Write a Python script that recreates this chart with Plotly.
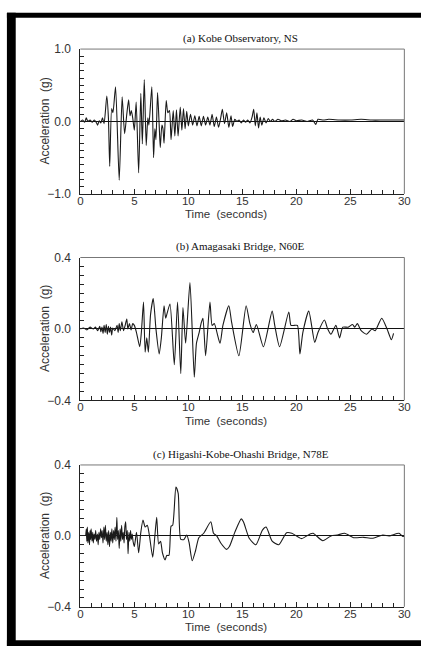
import plotly.graph_objects as go

W, H = 427, 653

# ---------------- data ----------------
kobe_t = [0.0, 0.2, 0.4, 0.55, 0.7, 0.9, 1.1, 1.3, 1.5, 1.6, 1.75, 1.9, 2.05, 2.2,
          2.45, 2.6, 2.72, 2.9, 3.02, 3.26, 3.6, 3.87, 4.1, 4.3, 4.47, 4.6, 4.72, 4.85,
          5.0, 5.17, 5.4, 5.6, 5.74, 5.92, 6.1, 6.25, 6.35, 6.62, 6.78, 6.9, 7.0, 7.15,
          7.3, 7.4, 7.55, 7.65, 7.75, 7.95, 8.1, 8.25, 8.4, 8.6, 8.75, 8.9, 9.05, 9.25,
          9.4, 9.55, 9.7, 9.85, 10.0, 10.2, 10.4, 10.6, 10.8, 11.0, 11.2, 11.4, 11.6,
          11.8, 12.0, 12.2, 12.4, 12.6, 12.8, 13.0, 13.15, 13.35, 13.55, 13.75, 13.95,
          14.1, 14.3, 14.5, 14.7, 14.9, 15.1, 15.3, 15.5, 15.7, 15.9, 16.05, 16.2, 16.35,
          16.5, 16.65, 16.8, 17.0, 17.2, 17.4, 17.6, 17.8, 18.0, 18.3, 18.6, 19.0, 19.4,
          19.7, 20.0, 20.5, 21.0, 21.5, 21.8, 22.0, 22.5, 23.0, 24.0, 25.0, 26.0, 27.0,
          28.0, 29.0, 30.0]
kobe_a = [0.0, 0.02, -0.01, 0.05, 0.0, 0.02, -0.01, 0.02, -0.02, -0.05, 0.01, -0.02, 0.05, -0.03,
          0.35, 0.05, -0.62, 0.18, 0.12, 0.48, -0.81, 0.34, -0.17, 0.10, 0.30, 0.08, 0.15, 0.05,
          -0.12, 0.27, -0.71, 0.39, -0.31, 0.58, -0.33, 0.05, -0.05, 0.48, -0.50, -0.10, -0.25, 0.40,
          -0.05, -0.36, -0.05, -0.10, -0.30, 0.29, 0.12, 0.15, -0.25, 0.15, -0.20, 0.16, -0.20, 0.20,
          -0.12, 0.18, -0.10, 0.14, -0.06, 0.10, -0.05, 0.08, -0.06, 0.07, -0.06, 0.07, -0.05,
          0.06, -0.05, 0.10, -0.07, 0.06, -0.08, 0.05, 0.17, -0.03, 0.12, -0.08, 0.08,
          -0.07, 0.03, 0.0, 0.02, -0.02, 0.02, -0.01, 0.02, -0.02, 0.06, 0.17, -0.06, 0.12,
          -0.09, 0.06, -0.05, 0.05, -0.02, 0.04, 0.0, 0.03, 0.0, 0.03, 0.01, 0.02, 0.0,
          0.03, 0.01, 0.02, 0.0, 0.02, -0.04, 0.03, 0.02, 0.03, 0.02, 0.02, 0.03, 0.02,
          0.02, 0.02, 0.02]

amag_t = [0.0, 0.3, 0.6, 0.9, 1.2, 1.4, 1.6, 1.8, 1.9, 2.0, 2.1, 2.2, 2.3, 2.4, 2.5, 2.6,
          2.7, 2.8, 2.9, 3.0, 3.2, 3.4, 3.5, 3.6, 3.7, 3.85, 4.0, 4.15, 4.3, 4.4, 4.55, 4.7,
          4.85, 5.0, 5.2, 5.5, 5.65, 5.85, 6.0, 6.15, 6.3, 6.5, 6.75, 7.0, 7.3, 7.5, 7.75,
          7.9, 8.0, 8.3, 8.7, 9.0, 9.3, 9.5, 9.75, 10.15, 10.55, 10.75, 11.0, 11.2, 11.35,
          11.6, 12.0, 12.2, 12.4, 12.93, 13.2, 13.75, 14.0, 14.68, 15.35, 15.7, 16.0, 16.3,
          16.95, 17.76, 18.0, 18.45, 19.3, 19.5, 19.8, 20.1, 20.33, 20.6, 21.15, 21.7, 22.0,
          22.6, 22.9, 23.2, 23.66, 24.0, 24.3, 24.8, 25.2, 25.4, 25.65, 26.0, 26.5, 27.0,
          27.3, 27.9, 28.4, 28.8, 29.0]
amag_a = [0.0, 0.005, -0.005, 0.01, 0.0, 0.01, -0.01, 0.015, -0.015, 0.01, -0.025, 0.02, -0.02, 0.025, -0.03, 0.015,
          -0.02, 0.01, -0.035, 0.005, -0.01, 0.02, -0.02, 0.03, -0.01, 0.04, -0.01, 0.02, 0.055, 0.0, 0.03, -0.005,
          0.03, 0.02, -0.02, -0.10, -0.02, 0.15, -0.13, -0.05, -0.13, 0.08, 0.17, 0.0, -0.14, -0.05, 0.13,
          0.06, 0.08, 0.14, -0.20, 0.15, -0.25, 0.12, -0.08, 0.26, -0.27, -0.08, -0.02, 0.035, 0.06,
          -0.15, 0.15, 0.02, 0.03, -0.08, 0.02, 0.13, 0.04, -0.15, 0.13, 0.03, -0.02, 0.025,
          -0.10, 0.10, 0.02, -0.10, 0.095, 0.02, 0.02, 0.02, -0.14, -0.02, 0.10, -0.075, -0.02,
          0.05, 0.0, -0.03, 0.02, -0.05, 0.01, 0.01, 0.025, 0.01, 0.03, -0.01, -0.03, 0.0,
          -0.01, 0.06, 0.0, -0.06, -0.025]

higa_t = [0.5, 0.55, 0.6, 0.65, 0.7, 0.78, 0.85, 0.9, 0.95, 1.0, 1.08, 1.15, 1.2, 1.28, 1.35,
          1.42, 1.5, 1.58, 1.65, 1.72, 1.8, 1.88, 1.95, 2.02, 2.1, 2.18, 2.25, 2.32, 2.4, 2.48,
          2.55, 2.62, 2.7, 2.78, 2.85, 2.92, 3.0, 3.08, 3.15, 3.22, 3.3, 3.38, 3.45, 3.52, 3.6,
          3.68, 3.75, 3.82, 3.9, 3.97, 4.05, 4.12, 4.2, 4.27, 4.35, 4.42, 4.5, 4.58, 4.65, 4.72,
          4.8, 4.88, 5.0, 5.2, 5.4, 5.6, 5.8, 6.0, 6.2, 6.4, 6.7, 6.9, 7.07, 7.25, 7.43, 7.6,
          7.85, 8.0, 8.2, 8.4, 8.55, 8.85, 9.06, 9.3, 9.6, 9.85, 10.06, 10.36, 10.66, 10.97,
          11.42, 12.08, 12.33, 12.63, 13.0, 13.54, 13.8, 14.3, 14.9, 15.1, 15.65, 16.25, 16.86,
          17.2, 17.76, 18.37, 19.1, 19.58, 20.48, 21.24, 21.55, 22.45, 23.2, 23.8, 24.47, 25.3,
          26.2, 27.1, 28.0, 28.6, 29.5, 29.85, 30.0]
higa_a = [0.0, 0.04, -0.03, 0.05, -0.04, 0.02, -0.05, 0.03, -0.02, 0.04, -0.03, 0.02, -0.04, 0.01, -0.02,
          0.03, -0.03, 0.01, -0.05, 0.02, -0.02, 0.04, -0.01, 0.03, -0.04, 0.05, -0.02, 0.06, -0.03, 0.02,
          -0.05, 0.03, -0.06, 0.02, -0.03, 0.04, -0.04, 0.03, -0.02, 0.05, -0.03, 0.105, -0.02, 0.03, -0.07,
          0.04, -0.03, 0.06, -0.02, 0.02, -0.04, 0.05, 0.08, -0.02, 0.03, -0.10, 0.02, -0.03, 0.03, -0.02,
          0.01, -0.03, -0.06, 0.02, -0.095, 0.02, 0.09, 0.05, 0.06, 0.0, -0.12, 0.0, 0.105, -0.045, -0.03, -0.095,
          -0.135, -0.11, -0.11, 0.055, 0.06, 0.275, 0.24, -0.02, -0.02, 0.005, -0.035, -0.14, -0.085, -0.01,
          0.015, 0.08, 0.015, 0.0, -0.04, -0.076, -0.06, 0.02, 0.096, 0.08, -0.015, -0.05, 0.033,
          0.05, -0.03, -0.05, 0.018, 0.015, -0.015, 0.01, 0.015, -0.027, 0.0, 0.005, 0.015, -0.01,
          -0.008, -0.013, 0.005, 0.0, 0.015, -0.003, 0.0]

titles = ["(a) Kobe Observatory, NS", "(b) Amagasaki Bridge, N60E",
          "(c) Higashi-Kobe-Ohashi Bridge, N78E"]
ylims = [1.0, 0.4, 0.4]
yminor = [0.1, 0.05, 0.05]
xticks = [0, 5, 10, 15, 20, 25, 30]
x_title = "Time  (seconds)"
y_title = "Acceleration  (g)"

series = [(kobe_t, kobe_a), (amag_t, amag_a), (higa_t, higa_a)]

# ---------------- layout geometry (pixels) ----------------
px_left, px_right = 79, 410
panel_px = [(43, 191), (256, 402), (468, 613)]   # (top, bottom)

def py(v):
    return 1 - v / H

def pxx(v):
    return v / W

fig = go.Figure()
sans = "Liberation Sans, Arial, sans-serif"
serif = "Liberation Serif, Times New Roman, serif"

annotations = []
shapes = []
for i, ((t, a), lim, mn, title, (top, bot)) in enumerate(
        zip(series, ylims, yminor, titles, panel_px)):
    n = "" if i == 0 else str(i + 1)
    fig.add_trace(go.Scatter(x=t, y=a, mode="lines",
                             line=dict(color="#1a1a1a", width=1.1, shape="spline", smoothing=0.6),
                             xaxis="x" + n, yaxis="y" + n, showlegend=False,
                             hoverinfo="skip"))
    xa = dict(domain=[pxx(px_left), pxx(px_right)], range=[0, 30],
              tickvals=xticks, ticks="inside", ticklen=5, tickcolor="#222",
              minor=dict(dtick=1, ticks="inside", ticklen=4, tickcolor="#222"),
              showline=True, linecolor="#222", linewidth=1, showgrid=False,
              zeroline=False, anchor="y" + n,
              tickfont=dict(family=sans, size=11.5, color="#333"), ticklabelstandoff=-4)
    ya = dict(domain=[py(bot), py(top)], range=[-lim, lim],
              tickvals=[-lim, 0, lim], tickformat=".1f", ticks="inside", ticklen=5,
              tickcolor="#222",
              minor=dict(dtick=mn, ticks="inside", ticklen=4, tickcolor="#222"),
              showline=True, linecolor="#222", linewidth=1, showgrid=False,
              zeroline=True, zerolinecolor="#111", zerolinewidth=1,
              anchor="x" + n,
              tickfont=dict(family=sans, size=12, color="#333"), ticklabelstandoff=6)
    fig.layout["xaxis" + n] = xa
    fig.layout["yaxis" + n] = ya
    # top and right frame edges (lighter)
    shapes.append(dict(type="line", xref="x" + n + " domain", yref="y" + n + " domain",
                       x0=0, x1=1, y0=1, y1=1, line=dict(color="#777", width=1)))
    shapes.append(dict(type="line", xref="x" + n + " domain", yref="y" + n + " domain",
                       x0=1, x1=1, y0=0, y1=1, line=dict(color="#777", width=1)))
    annotations.append(dict(text=title, xref="paper", yref="paper",
                            x=pxx(243), y=py(top - 11), xanchor="center", yanchor="middle",
                            showarrow=False, font=dict(family=serif, size=11, color="#111")))
    annotations.append(dict(text=x_title, xref="paper", yref="paper",
                            x=pxx(228), y=py(bot + 21), xanchor="center", yanchor="middle",
                            showarrow=False, font=dict(family=sans, size=11.5, color="#333")))
    annotations.append(dict(text=y_title, xref="paper", yref="paper",
                            x=pxx(43), y=py((top + bot) / 2), xanchor="center", yanchor="middle",
                            textangle=-90, showarrow=False,
                            font=dict(family=sans, size=12, color="#333")))

# black scan frame
shapes += [
    dict(type="rect", xref="paper", yref="paper", x0=pxx(4), x1=pxx(13), y0=0, y1=py(6),
         fillcolor="black", line=dict(width=0)),
    dict(type="rect", xref="paper", yref="paper", x0=pxx(4), x1=1, y0=py(11), y1=py(6),
         fillcolor="black", line=dict(width=0)),
    dict(type="rect", xref="paper", yref="paper", x0=pxx(4), x1=1, y0=0, y1=py(647),
         fillcolor="black", line=dict(width=0)),
]

fig.update_layout(width=W, height=H, margin=dict(l=0, r=0, t=0, b=0),
                  paper_bgcolor="white", plot_bgcolor="white",
                  annotations=annotations, shapes=shapes)

fig.write_html("out.html", config={"displayModeBar": False},
               post_script="document.body.style.margin='0px';"
                           "document.body.style.overflow='hidden';")
